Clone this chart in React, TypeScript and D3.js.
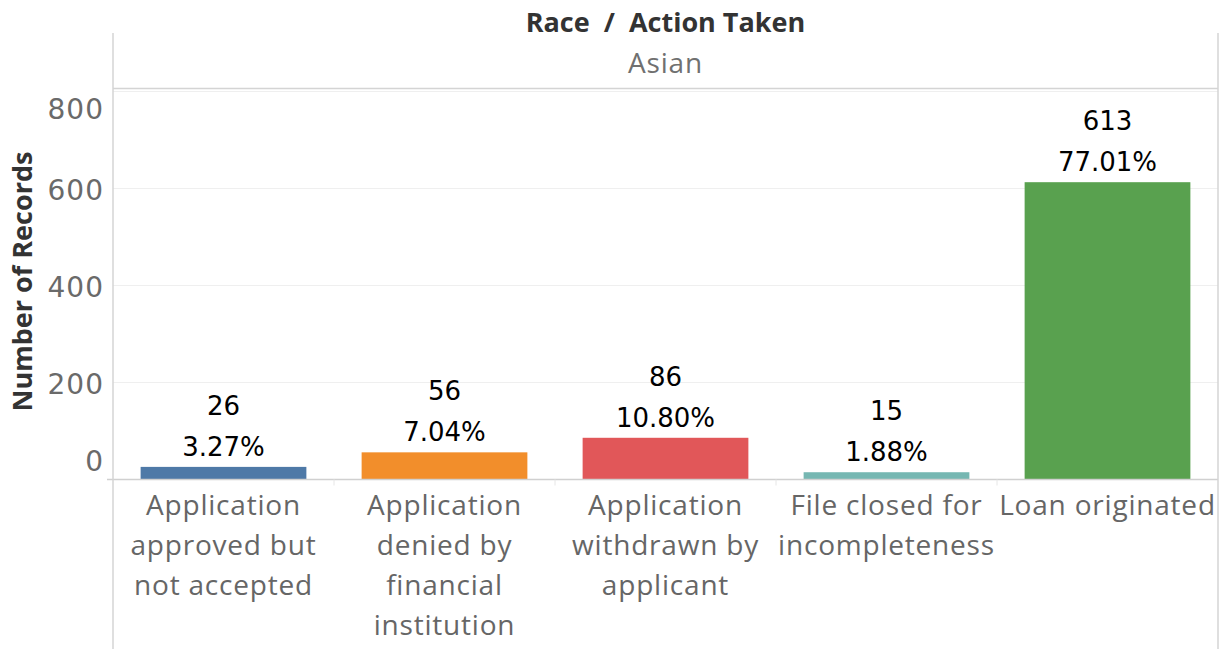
import React from "react";
import * as d3 from "d3";

const categories = [
  "Application approved but not accepted",
  "Application denied by financial institution",
  "Application withdrawn by applicant",
  "File closed for incompleteness",
  "Loan originated",
];
const categoryLabelLines = [
  ["Application", "approved but", "not accepted"],
  ["Application", "denied by", "financial", "institution"],
  ["Application", "withdrawn by", "applicant"],
  ["File closed for", "incompleteness"],
  ["Loan originated"],
];
const counts = [26, 56, 86, 15, 613];
const colors = ["#4e79a7", "#f28e2b", "#e15759", "#76b7b2", "#59a14f"];
const yTicks = [0, 200, 400, 600, 800];
const title = "Race  /  Action Taken";
const subTitle = "Asian";
const yTitle = "Number of Records";

const W = 1224;
const H = 649;
const left = 113;
const right = 1218;
const baseY = 479.5;
const topY = 91.5;

export default function App() {
  const x = d3
    .scaleBand<string>()
    .domain(categories)
    .range([left, right])
    .paddingInner(0.25)
    .paddingOuter(0.125);
  const y = d3.scaleLinear().domain([0, 800]).range([baseY, topY]);
  const total = d3.sum(counts);
  const step = x.step();
  const boundaries = categories.slice(1).map((c) => (x(c) as number) - step * 0.125);

  const tickFont = "'DejaVu Sans', Verdana, sans-serif";
  const labelFont = "'Open Sans', 'Noto Sans', sans-serif";

  return (
    <svg
      width={W}
      height={H}
      style={{ position: "absolute", left: 0, top: 0, background: "#fff" }}
    >
      {/* header */}
      <text
        x={(left + right) / 2}
        y={32}
        textAnchor="middle"
        fontFamily={labelFont}
        fontWeight="bold"
        fontSize={27}
        fill="#333"
        style={{ whiteSpace: "pre" }}
      >
        {title}
      </text>
      <text
        x={(left + right) / 2}
        y={73}
        textAnchor="middle"
        fontFamily={labelFont}
        fontSize={28}
        letterSpacing={0.8}
        fill="#707070"
      >
        {subTitle}
      </text>
      <line x1={left} x2={right} y1={88.5} y2={88.5} stroke="#d4d4d4" strokeWidth={1.5} />

      {/* gridlines */}
      {yTicks
        .filter((t) => t !== 0)
        .map((t) => (
          <line key={t} x1={left} x2={right} y1={y(t)} y2={y(t)} stroke="#efefef" strokeWidth={1} />
        ))}

      {/* bars */}
      {categories.map((c, i) => (
        <rect
          key={c}
          x={x(c)}
          y={y(counts[i])}
          width={x.bandwidth()}
          height={baseY - y(counts[i])}
          fill={colors[i]}
        />
      ))}

      {/* value labels */}
      {categories.map((c, i) => {
        const cx = (x(c) as number) + x.bandwidth() / 2;
        const top = y(counts[i]);
        return (
          <g key={c} fontFamily={tickFont} fontSize={26} fill="#000" textAnchor="middle">
            <text x={cx} y={top - 52}>
              {counts[i]}
            </text>
            <text x={cx} y={top - 11}>
              {((counts[i] / total) * 100).toFixed(2) + "%"}
            </text>
          </g>
        );
      })}

      {/* baseline */}
      <line x1={107} x2={right} y1={baseY} y2={baseY} stroke="#d0d0d0" strokeWidth={1.5} />
      {boundaries.map((b, i) => (
        <line key={i} x1={b} x2={b} y1={baseY} y2={baseY + 6} stroke="#e6e6e6" />
      ))}

      {/* frame lines */}
      <line x1={left} x2={left} y1={33} y2={H} stroke="#d4d4d4" strokeWidth={1.5} />
      <line x1={right} x2={right} y1={33} y2={H} stroke="#d4d4d4" strokeWidth={1.5} />

      {/* y tick labels */}
      {yTicks.map((t) => {
        let ty = y(t) + 11;
        if (t === 800) ty = y(t) + 27;
        if (t === 0) ty = y(t) - 9;
        return (
          <text
            key={t}
            x={104}
            y={ty}
            textAnchor="end"
            fontFamily={tickFont}
            fontSize={28}
            letterSpacing={1}
            fill="#6a6a6a"
          >
            {t}
          </text>
        );
      })}

      {/* y title */}
      <text
        transform={`translate(32, ${(topY + baseY) / 2 - 4}) rotate(-90)`}
        textAnchor="middle"
        fontFamily={labelFont}
        fontWeight="bold"
        fontSize={27}
        fill="#333"
      >
        {yTitle}
      </text>

      {/* category labels */}
      {categories.map((c, i) => {
        const cx = (x(c) as number) + x.bandwidth() / 2;
        return (
          <text
            key={c}
            textAnchor="middle"
            fontFamily={labelFont}
            fontSize={28}
            letterSpacing={0.8}
            fill="#666"
          >
            {categoryLabelLines[i].map((ln, j) => (
              <tspan key={j} x={cx} y={515 + j * 40}>
                {ln}
              </tspan>
            ))}
          </text>
        );
      })}
    </svg>
  );
}
